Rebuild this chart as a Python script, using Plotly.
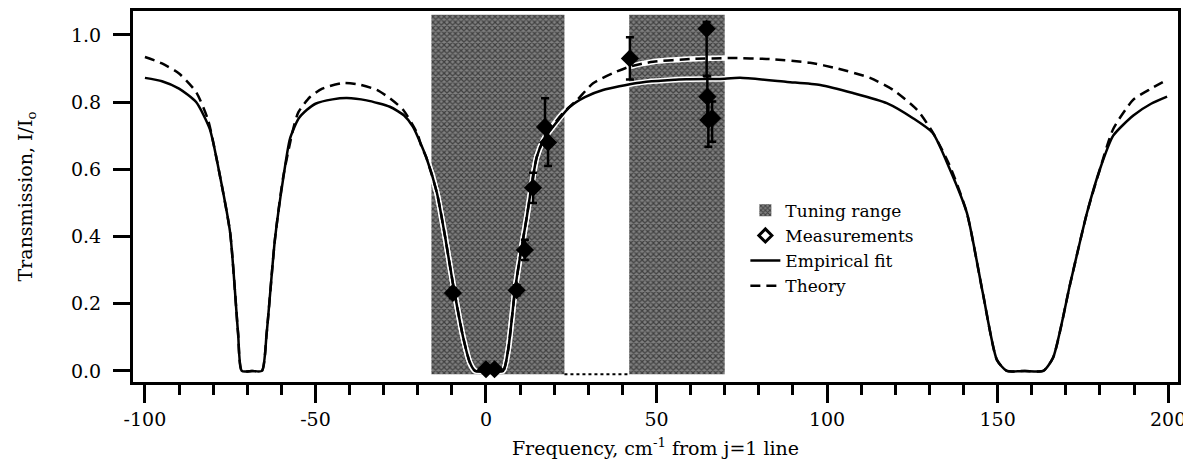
import plotly.graph_objects as go

# ---- data ----
tuning_start = [-16, 42]
tuning_end = [23, 70]
tuning_low = -0.01
tuning_high = 1.06

fit_x = [-100, -95, -90, -85, -81, -78, -75, -72.7, -71.6, -68.6, -65.7, -64.3, -61.9, -59.5,
         -57.5, -55, -52.5, -50, -45, -40.8, -35, -28.2, -24, -21.4, -17.5, -14.4, -12, -9.7,
         -6.7, -4.7, -3.2, 1, 5, 6.5, 8.5, 10, 12, 13.5, 14.9, 17, 19.6, 24.6, 29, 34.3, 44.3,
         58.9, 68.6, 74.5, 88.3, 98, 107.6, 117.5, 125.2, 131, 136, 141, 145.7, 149.8, 152.7,
         158, 163.4, 166.3, 171.3, 176.2, 180, 183.9, 189.8, 195, 199.7]
fit_y = [0.872, 0.862, 0.840, 0.800, 0.720, 0.580, 0.410, 0.113, 0.0, 0.0, 0.0, 0.113, 0.390, 0.570,
         0.690, 0.750, 0.777, 0.795, 0.808, 0.812, 0.805, 0.786, 0.760, 0.726, 0.635, 0.530, 0.400, 0.260,
         0.100, 0.024, 0.0, 0.0, 0.0, 0.063, 0.240, 0.340, 0.460, 0.560, 0.637, 0.690, 0.726, 0.786, 0.815, 0.836, 0.857,
         0.868, 0.869, 0.872, 0.860, 0.851, 0.827, 0.797, 0.752, 0.708, 0.600, 0.470, 0.230, 0.033, 0.0,
         0.0, 0.0, 0.040, 0.260, 0.470, 0.600, 0.700, 0.760, 0.795, 0.816]

theory_x = [-100, -95, -90, -85, -81.5, -78, -75, -72.7, -71.6, -68.6, -65.7, -64.3, -61.9, -59.5,
            -56.6, -55, -51.6, -48, -41.9, -37, -32, -28, -24.3, -20.2, -19, -17.5, -14.4, -12, -9.7,
            -6.7, -4.7, -3.2, 1, 5, 6.5, 8.5, 10, 12, 13.5, 14.9, 17, 19.6, 22.6, 26.7, 31.4, 37.2,
            42, 49, 60, 71.6, 83.3, 95, 103, 112.6, 119.4, 126.4, 131, 136, 141, 145.7, 149.8, 152.7,
            158, 163.4, 166.3, 171.3, 176.2, 180, 183.9, 189.8, 195, 199.7]
theory_y = [0.934, 0.915, 0.885, 0.830, 0.747, 0.580, 0.410, 0.113, 0.0, 0.0, 0.0, 0.113, 0.390, 0.575,
            0.717, 0.770, 0.815, 0.840, 0.857, 0.852, 0.836, 0.810, 0.777, 0.708, 0.670, 0.635, 0.530, 0.400, 0.260,
            0.100, 0.024, 0.0, 0.0, 0.0, 0.063, 0.240, 0.340, 0.460, 0.560, 0.637, 0.690, 0.730, 0.768, 0.806, 0.856, 0.886,
            0.905, 0.920, 0.928, 0.931, 0.928, 0.917, 0.900, 0.872, 0.836, 0.777, 0.710, 0.610, 0.470, 0.230, 0.033, 0.0,
            0.0, 0.0, 0.040, 0.260, 0.470, 0.600, 0.720, 0.807, 0.840, 0.866]

meas_x = [-9.7, 0, 2.5, 9.0, 11.4, 13.8, 17.3, 18.2, 42.2, 64.7, 64.9, 65.2, 66.3]
meas_y = [0.232, 0.005, 0.005, 0.240, 0.360, 0.545, 0.726, 0.680, 0.930, 1.018, 0.816, 0.747, 0.752]
meas_err_plus = [0.015, 0.01, 0.01, 0.015, 0.03, 0.045, 0.085, 0.04, 0.063, 0.02, 0.06, 0.06, 0.05]
meas_err_minus = [0.015, 0.01, 0.01, 0.015, 0.03, 0.045, 0.05, 0.07, 0.063, 0.14, 0.06, 0.08, 0.07]

x_tick_vals = [-100, -50, 0, 50, 100, 150, 200]
x_tick_text = ["-100", "-50", "0", "50", "100", "150", "200"]
y_tick_vals = [0.0, 0.2, 0.4, 0.6, 0.8, 1.0]
y_tick_text = ["0.0", "0.2", "0.4", "0.6", "0.8", "1.0"]

FONT = "DejaVu Serif"

fig = go.Figure()

# tuning range as bars
centers = [(a + b) / 2 for a, b in zip(tuning_start, tuning_end)]
widths = [b - a for a, b in zip(tuning_start, tuning_end)]
fig.add_trace(go.Bar(
    x=centers, y=[tuning_high - tuning_low] * len(centers), base=[tuning_low] * len(centers),
    width=widths, name="Tuning range",
    marker=dict(color="#808080", line=dict(width=0),
                pattern=dict(shape="x", size=4, solidity=0.5, fgcolor="#000000", bgcolor="#808080")),
    legendrank=1,
))
# dotted baseline between tuning ranges
fig.add_trace(go.Scatter(
    x=[tuning_end[0], tuning_start[1]], y=[tuning_low, tuning_low], mode="lines",
    line=dict(color="black", width=2, dash="dot"), showlegend=False, hoverinfo="skip"))

# white halos
for xs, ys in [(theory_x, theory_y), (fit_x, fit_y)]:
    fig.add_trace(go.Scatter(x=xs, y=ys, mode="lines", line=dict(color="white", width=5.5, shape="spline", smoothing=0.6),
                             showlegend=False, hoverinfo="skip"))

fig.add_trace(go.Scatter(x=theory_x, y=theory_y, mode="lines", name="Theory",
                         line=dict(color="black", width=2.5, dash="10px,6px", shape="spline", smoothing=0.6),
                         legendrank=4))
fig.add_trace(go.Scatter(x=fit_x, y=fit_y, mode="lines", name="Empirical fit",
                         line=dict(color="black", width=2.5, shape="spline", smoothing=0.6),
                         legendrank=3))

fig.add_trace(go.Scatter(
    x=meas_x, y=meas_y, mode="markers", showlegend=False,
    marker=dict(symbol="diamond", size=14, color="black"),
    error_y=dict(type="data", symmetric=False, array=meas_err_plus, arrayminus=meas_err_minus,
                 thickness=2.5, width=4, color="black")))
# legend entry for measurements (open diamond)
fig.add_trace(go.Scatter(x=[None], y=[None], mode="markers", name="Measurements",
                         marker=dict(symbol="diamond-open", size=10, color="black", line=dict(width=3)),
                         legendrank=2))

axis_common = dict(showline=True, linewidth=3, linecolor="black", mirror=True, showgrid=False,
                   zeroline=False, ticks="outside", tickwidth=3, tickcolor="black", automargin=False,
                   tickfont=dict(family=FONT, size=19, color="black"))

# page body has an 8px margin: size the figure to fit the 1191x471 window
fig.update_layout(
    width=1183, height=463,
    margin=dict(l=125, r=13, t=3, b=89),
    paper_bgcolor="white", plot_bgcolor="white",
    font=dict(family=FONT, size=19, color="black"),
    barmode="overlay",
    xaxis=dict(range=[-103.5, 202.9], tickmode="array", tickvals=x_tick_vals, ticktext=x_tick_text,
               ticklen=18,
               minor=dict(dtick=10, tick0=0, ticklen=10, tickwidth=3, ticks="outside", tickcolor="black"),
               title=dict(text="Frequency, cm<sup>-1</sup> from j=1 line", font=dict(family=FONT, size=19), standoff=13),
               **axis_common),
    yaxis=dict(range=[-0.033, 1.071], tickmode="array", tickvals=y_tick_vals, ticktext=y_tick_text,
               ticklen=17, ticklabelstandoff=8,
               title=dict(text="Transmission, I/I<sub>o</sub>", font=dict(family=FONT, size=19), standoff=34),
               **axis_common),
    legend=dict(x=0.586, y=0.51, xanchor="left", yanchor="top", bgcolor="rgba(0,0,0,0)",
                font=dict(family=FONT, size=17, color="black"), tracegroupgap=0, itemwidth=30),
    showlegend=True,
)

fig.write_html("out.html")
